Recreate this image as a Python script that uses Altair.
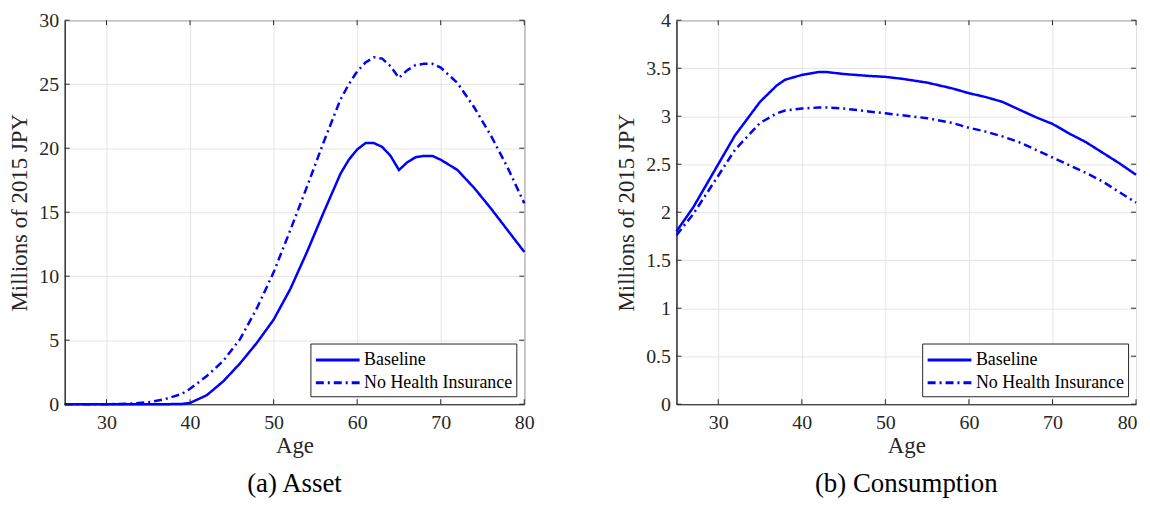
import altair as alt
import pandas as pd

# ---- data ----
asset_age = [25, 30, 33, 35, 37, 39, 40, 42, 44, 46, 48, 50, 52, 54, 56, 58, 59, 60, 61, 62,
             63, 64, 65, 66, 67, 68, 69, 70, 72, 74, 76, 78, 80]
asset_base = [0, 0, 0, 0, 0, 0.02, 0.1, 0.7, 1.8, 3.2, 4.8, 6.6, 9.0, 11.9, 15.0, 18.0, 19.1,
              19.9, 20.4, 20.4, 20.1, 19.4, 18.3, 18.9, 19.3, 19.4, 19.4, 19.1, 18.3, 16.9,
              15.3, 13.6, 11.9]
asset_nohi = [0, 0, 0.05, 0.15, 0.4, 0.8, 1.2, 2.2, 3.4, 5.1, 7.5, 10.3, 13.6, 17.0, 20.5,
              23.8, 25.0, 26.0, 26.7, 27.1, 27.0, 26.4, 25.5, 26.1, 26.5, 26.6, 26.6, 26.3,
              25.1, 23.2, 21.0, 18.5, 15.7]

cons_age = [25, 27, 30, 32, 35, 37, 38, 40, 42, 43, 45, 48, 50, 52, 55, 58, 60, 62, 64, 66,
            68, 70, 72, 74, 76, 78, 80]
cons_base = [1.80, 2.05, 2.50, 2.80, 3.15, 3.32, 3.38, 3.43, 3.46, 3.46, 3.44, 3.42, 3.41,
             3.39, 3.35, 3.29, 3.24, 3.20, 3.15, 3.07, 2.99, 2.92, 2.82, 2.73, 2.62, 2.51, 2.39]
cons_nohi = [1.76, 1.98, 2.38, 2.65, 2.93, 3.03, 3.06, 3.08, 3.09, 3.09, 3.08, 3.05, 3.03,
             3.01, 2.98, 2.93, 2.88, 2.84, 2.79, 2.73, 2.65, 2.57, 2.49, 2.41, 2.32, 2.21, 2.10]

series_names = ["Baseline", "No Health Insurance"]
x_ticks = [30, 40, 50, 60, 70, 80]
asset_yticks = [0, 5, 10, 15, 20, 25, 30]
cons_yticks = [0, 0.5, 1, 1.5, 2, 2.5, 3, 3.5, 4]

FONT = "Liberation Serif"
W, H = 462, 386
TICK = 5
AX = "#262626"
BLUE = "#0000ff"


def panel(age, base, nohi, yticks, ydom, caption, flush):
    df = pd.DataFrame({
        "Age": age * 2,
        "v": base + nohi,
        "s": [series_names[0]] * len(age) + [series_names[1]] * len(age),
    })
    xs = alt.Scale(domain=[25, 80], nice=False, zero=False)
    ys = alt.Scale(domain=ydom, nice=False)
    xaxis = alt.Axis(values=x_ticks, title="Age", ticks=False, labelPadding=8,
                     titlePadding=3, grid=True, format="d", labelFlush=flush,
                     labelFlushOffset=1, labelFont=FONT, titleFont=FONT)
    yaxis = alt.Axis(values=yticks, title="Millions of 2015 JPY", ticks=False,
                     labelPadding=6, titlePadding=7, grid=True, format="~g",
                     labelFlush=False, labelFont=FONT, titleFont=FONT)
    lines = alt.Chart(df).mark_line(color=BLUE, strokeWidth=2.5).encode(
        x=alt.X("Age:Q", scale=xs, axis=xaxis),
        y=alt.Y("v:Q", scale=ys, axis=yaxis),
        strokeDash=alt.StrokeDash(
            "s:N",
            scale=alt.Scale(domain=series_names, range=[[1, 0], [8, 4, 2, 4]]),
            legend=alt.Legend(title=None, orient="bottom-right", symbolType="M-1,0H3",
                              symbolStrokeColor=BLUE, symbolStrokeWidth=3,
                              symbolSize=484, labelFont=FONT, labelFontSize=18,
                              labelColor="#000000", fillColor="white", strokeColor=AX,
                              padding=4, offset=8, rowPadding=1, labelOffset=25,
                              symbolOffset=0),
        ),
        order="Age:Q",
    )
    xt = pd.DataFrame({"t": x_ticks})
    yt = pd.DataFrame({"t": yticks})
    xb = alt.Chart(xt).mark_rule(color=AX, strokeWidth=1).encode(
        x=alt.X("t:Q", scale=xs), y=alt.value(H), y2=alt.value(H - TICK))
    xtop = alt.Chart(xt).mark_rule(color=AX, strokeWidth=1).encode(
        x=alt.X("t:Q", scale=xs), y=alt.value(0), y2=alt.value(TICK))
    yl = alt.Chart(yt).mark_rule(color=AX, strokeWidth=1).encode(
        y=alt.Y("t:Q", scale=ys), x=alt.value(0), x2=alt.value(TICK))
    yr = alt.Chart(yt).mark_rule(color=AX, strokeWidth=1).encode(
        y=alt.Y("t:Q", scale=ys), x=alt.value(W), x2=alt.value(W - TICK))
    return alt.layer(lines, xb, xtop, yl, yr).properties(
        width=W, height=H,
        title=alt.TitleParams(caption, orient="bottom", font=FONT, fontSize=27,
                              fontWeight="normal", color="#000000", offset=13),
    )


left = panel(asset_age, asset_base, asset_nohi, asset_yticks, [0, 30], "(a) Asset", False)
right = panel(cons_age, cons_base, cons_nohi, cons_yticks, [0, 4], "(b) Consumption", True)

chart = alt.hconcat(left, right, spacing=80).resolve_scale(
    strokeDash="independent").resolve_legend(strokeDash="independent").properties(
    padding={"left": 0, "right": 0, "top": 0, "bottom": 0}
).configure(
    font=FONT
).configure_view(
    stroke=AX, strokeWidth=1
).configure_axis(
    labelFont=FONT, labelFontSize=20, labelColor=AX, titleFont=FONT, titleFontSize=23,
    titleFontWeight="normal", titleColor=AX, domainColor=AX, domainWidth=1,
    gridColor="#e5e5e5", gridWidth=1,
).configure_legend(
    labelFont=FONT
).configure_title(
    font=FONT
)

chart.save("out.html", embed_options={"renderer": "svg", "actions": False})
